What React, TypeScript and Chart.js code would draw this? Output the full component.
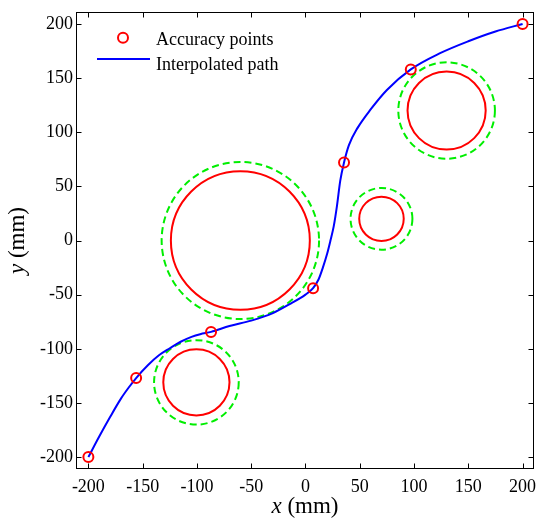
import React, { useEffect, useRef } from "react";
import { Chart, registerables } from "chart.js";

Chart.register(...registerables);

// ---- data ----
const accuracyX = [-200, -156, -87, 7, 35.5, 97, 200];
const accuracyY = [-200, -127, -84.4, -44, 72, 158, 200];

const pathX = [-200, -190, -180, -170, -163, -156, -145, -135, -125, -115, -105, -97, -87, -70, -50, -30, -15, 0, 7, 12, 16, 20, 23, 26, 29, 32, 35.5, 40, 48, 60, 75, 97, 124, 150, 175, 200];
const pathY = [-200, -181, -163, -146, -136, -127, -115, -106, -99.5, -93.5, -89, -86.5, -84.4, -79, -74, -67, -59, -50, -44, -36, -25, -12, 0, 13, 32, 55, 72, 88, 104, 121, 139, 158, 173, 184, 193, 200];

const zoneCenterX = [-60, 130, 70, -100.5];
const zoneCenterY = [0, 120, 20, -131];
const innerRadius = [64, 36, 20.5, 30.5];
const outerRadius = [72.5, 44.5, 28.5, 39];

const xTicks = [-200, -150, -100, -50, 0, 50, 100, 150, 200];
const yTicks = [-200, -150, -100, -50, 0, 50, 100, 150, 200];

const legendLabels = ["Accuracy points", "Interpolated path"];
const xTitleVar = "x";
const yTitleVar = "y";
const titleUnit = " (mm)";

const SERIF = "'Liberation Serif', 'Times New Roman', serif";
const RED = "#ff0000";
const BLUE = "#0000ff";
const GREEN = "#00ee00";

const decorPlugin = {
  id: "decor",
  beforeDatasetsDraw(chart: any) {
    const { ctx, scales, chartArea } = chart;
    const x = scales.x;
    const y = scales.y;
    ctx.save();
    ctx.beginPath();
    ctx.rect(chartArea.left, chartArea.top, chartArea.right - chartArea.left, chartArea.bottom - chartArea.top);
    ctx.clip();
    for (let i = 0; i < zoneCenterX.length; i++) {
      const cx = x.getPixelForValue(zoneCenterX[i]);
      const cy = y.getPixelForValue(zoneCenterY[i]);
      const rxo = Math.abs(x.getPixelForValue(zoneCenterX[i] + outerRadius[i]) - cx);
      const ryo = Math.abs(y.getPixelForValue(zoneCenterY[i] + outerRadius[i]) - cy);
      ctx.beginPath();
      ctx.setLineDash([7, 4]);
      ctx.strokeStyle = GREEN;
      ctx.lineWidth = 2;
      ctx.ellipse(cx, cy, rxo, ryo, 0, 0, Math.PI * 2);
      ctx.stroke();
      const rxi = Math.abs(x.getPixelForValue(zoneCenterX[i] + innerRadius[i]) - cx);
      const ryi = Math.abs(y.getPixelForValue(zoneCenterY[i] + innerRadius[i]) - cy);
      ctx.beginPath();
      ctx.setLineDash([]);
      ctx.strokeStyle = RED;
      ctx.lineWidth = 2;
      ctx.ellipse(cx, cy, rxi, ryi, 0, 0, Math.PI * 2);
      ctx.stroke();
    }
    ctx.restore();
  },
  afterDraw(chart: any) {
    const { ctx, scales, chartArea } = chart;
    const x = scales.x;
    const y = scales.y;
    const L = Math.round(chartArea.left) + 0.5;
    const R = Math.round(chartArea.right) - 0.5;
    const T = Math.round(chartArea.top) + 0.5;
    const B = Math.round(chartArea.bottom) - 0.5;
    ctx.save();
    ctx.strokeStyle = "#000";
    ctx.lineWidth = 1;
    ctx.setLineDash([]);
    ctx.strokeRect(L, T, R - L, B - T);
    const tl = 5;
    ctx.beginPath();
    for (const v of xTicks) {
      const px = Math.round(x.getPixelForValue(v)) + 0.5;
      ctx.moveTo(px, B);
      ctx.lineTo(px, B - tl);
      ctx.moveTo(px, T);
      ctx.lineTo(px, T + tl);
    }
    for (const v of yTicks) {
      const py = Math.round(y.getPixelForValue(v)) + 0.5;
      ctx.moveTo(L, py);
      ctx.lineTo(L + tl, py);
      ctx.moveTo(R, py);
      ctx.lineTo(R - tl, py);
    }
    ctx.stroke();

    // legend
    ctx.font = `18px ${SERIF}`;
    ctx.fillStyle = "#000";
    ctx.textAlign = "left";
    ctx.textBaseline = "alphabetic";
    ctx.beginPath();
    ctx.strokeStyle = RED;
    ctx.lineWidth = 2;
    ctx.arc(123, 37.7, 5, 0, Math.PI * 2);
    ctx.stroke();
    ctx.fillText(legendLabels[0], 156, 44.5);
    ctx.beginPath();
    ctx.strokeStyle = BLUE;
    ctx.lineWidth = 2;
    ctx.moveTo(97, 59);
    ctx.lineTo(150, 59);
    ctx.stroke();
    ctx.fillText(legendLabels[1], 156, 69.5);

    // axis titles
    const tsize = 23;
    const drawTitle = (cx: number, cy: number, rot: number, v: string) => {
      ctx.save();
      ctx.translate(cx, cy);
      ctx.rotate(rot);
      ctx.fillStyle = "#000";
      ctx.textBaseline = "alphabetic";
      ctx.font = `italic ${tsize}px ${SERIF}`;
      const w1 = ctx.measureText(v).width;
      ctx.font = `${tsize}px ${SERIF}`;
      const w2 = ctx.measureText(titleUnit).width;
      const start = -(w1 + w2) / 2;
      ctx.textAlign = "left";
      ctx.font = `italic ${tsize}px ${SERIF}`;
      ctx.fillText(v, start, 0);
      ctx.font = `${tsize}px ${SERIF}`;
      ctx.fillText(titleUnit, start + w1, 0);
      ctx.restore();
    };
    const midX = (chartArea.left + chartArea.right) / 2;
    const midY = (chartArea.top + chartArea.bottom) / 2;
    drawTitle(midX, 513, 0, xTitleVar);
    drawTitle(24, midY, -Math.PI / 2, yTitleVar);
    ctx.restore();
  },
};

export default function App() {
  const canvasRef = useRef<HTMLCanvasElement | null>(null);

  useEffect(() => {
    const canvas = canvasRef.current;
    if (!canvas) return;
    const chart = new Chart(canvas, {
      type: "scatter",
      data: {
        datasets: [
          {
            label: legendLabels[0],
            data: accuracyX.map((v, i) => ({ x: v, y: accuracyY[i] })),
            showLine: false,
            pointStyle: "circle",
            pointRadius: 5,
            pointBorderWidth: 2,
            borderColor: RED,
            backgroundColor: "rgba(0,0,0,0)",
            pointBackgroundColor: "rgba(0,0,0,0)",
          },
          {
            label: legendLabels[1],
            data: pathX.map((v, i) => ({ x: v, y: pathY[i] })),
            showLine: true,
            pointRadius: 0,
            borderColor: BLUE,
            borderWidth: 2,
            cubicInterpolationMode: "monotone",
          },
        ],
      },
      options: {
        animation: false,
        responsive: false,
        events: [],
        layout: { autoPadding: false, padding: { top: 12, right: 3, left: 0, bottom: 0 } },
        plugins: {
          legend: { display: false },
          tooltip: { enabled: false },
          title: { display: false },
        },
        scales: {
          x: {
            type: "linear",
            min: -211.4,
            max: 210.5,
            grid: { display: false, drawTicks: false },
            border: { display: false },
            afterBuildTicks: (s: any) => {
              s.ticks = xTicks.map((v) => ({ value: v }));
            },
            afterFit: (s: any) => {
              s.height = 49;
              s.paddingLeft = 0;
              s.paddingRight = 0;
            },
            ticks: {
              color: "#000",
              padding: 7,
              maxRotation: 0,
              autoSkip: false,
              font: { family: SERIF, size: 18 },
              callback: (v: any) => String(v),
            },
          },
          y: {
            type: "linear",
            min: -211,
            max: 211,
            grid: { display: false, drawTicks: false },
            border: { display: false },
            afterBuildTicks: (s: any) => {
              s.ticks = yTicks.map((v) => ({ value: v }));
            },
            afterFit: (s: any) => {
              s.width = 76;
              s.paddingTop = 0;
              s.paddingBottom = 0;
            },
            ticks: {
              color: "#000",
              padding: 3,
              autoSkip: false,
              font: { family: SERIF, size: 18 },
              callback: (v: any) => String(v),
            },
          },
        },
      },
      plugins: [decorPlugin],
    } as any);
    return () => chart.destroy();
  }, []);

  return (
    <div style={{ position: "fixed", left: 0, top: 0, width: 537, height: 518, background: "#fff" }}>
      <canvas ref={canvasRef} width={537} height={518} style={{ display: "block", width: 537, height: 518 }} />
    </div>
  );
}
